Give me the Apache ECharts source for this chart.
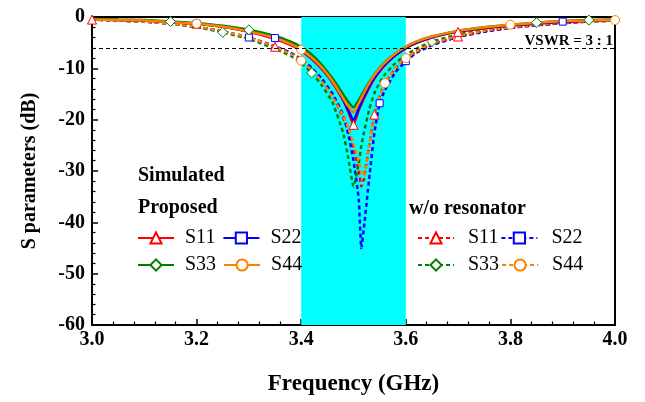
<!DOCTYPE html>
<html>
<head>
<meta charset="utf-8">
<script src="https://cdn.jsdelivr.net/npm/echarts@6/dist/echarts.min.js"></script>
<style>
  html, body { margin: 0; padding: 0; background: #fff; }
  #chart { width: 645px; height: 402px; }
</style>
</head>
<body>
<div id="chart"></div>
<script>
// Frequency sweep (GHz)
const freq = [3.00, 3.05, 3.10, 3.15, 3.20, 3.25, 3.30, 3.35, 3.38, 3.40, 3.42, 3.44, 3.46, 3.48, 3.49,
              3.50, 3.51, 3.515, 3.52, 3.53, 3.54, 3.55, 3.56, 3.58, 3.60, 3.62, 3.65, 3.70, 3.75, 3.80,
              3.85, 3.90, 3.95, 4.00];

// Proposed design (dB)
const propS11 = [-0.5, -0.6, -0.7, -1.0, -1.3, -1.9, -2.9, -4.3, -5.5, -6.6, -8.2, -10.2, -12.8, -16.2, -18.5,
                 -21.0, -18.2, -17.0, -15.9, -13.8, -12.0, -10.6, -9.4, -7.5, -6.1, -5.1, -4.0, -2.9, -2.2, -1.7,
                 -1.3, -1.0, -0.8, -0.6];
const propS22 = [-0.5, -0.6, -0.7, -1.0, -1.3, -1.9, -2.8, -4.1, -5.3, -6.4, -8.0, -10.0, -12.6, -16.0, -18.1,
                 -20.2, -17.8, -16.6, -15.5, -13.5, -11.8, -10.4, -9.2, -7.4, -6.0, -5.0, -3.9, -2.8, -2.1, -1.6,
                 -1.2, -0.9, -0.7, -0.6];
const propS33 = [-0.4, -0.5, -0.6, -0.9, -1.2, -1.7, -2.5, -3.7, -4.8, -5.8, -7.3, -9.4, -12.0, -15.0, -16.5,
                 -17.6, -16.2, -15.3, -14.4, -12.7, -11.2, -9.9, -8.8, -7.1, -5.8, -4.8, -3.8, -2.7, -2.0, -1.5,
                 -1.1, -0.8, -0.6, -0.5];
const propS44 = [-0.5, -0.6, -0.7, -1.0, -1.3, -1.9, -2.8, -4.1, -5.3, -6.4, -7.9, -9.9, -12.5, -15.8, -17.4,
                 -18.6, -16.8, -15.8, -14.8, -12.9, -11.3, -10.0, -8.9, -7.1, -5.8, -4.8, -3.8, -2.7, -2.0, -1.5,
                 -1.1, -0.8, -0.7, -0.6];

// Without resonator (dB)
const woS11 = [-0.5, -0.7, -0.9, -1.3, -1.9, -2.8, -4.0, -5.8, -7.1, -8.3, -10.1, -12.4, -15.4, -19.6, -22.2,
               -25.5, -30.0, -33.0, -31.5, -25.0, -19.0, -15.4, -13.0, -10.0, -8.1, -6.8, -5.3, -3.8, -2.8, -2.1,
               -1.6, -1.2, -0.9, -0.7];
const woS22 = [-0.5, -0.7, -0.9, -1.3, -1.9, -2.8, -4.0, -5.7, -7.0, -8.2, -9.9, -12.1, -15.0, -19.0, -22.8,
               -28.0, -35.5, -45.0, -41.0, -31.5, -22.5, -16.8, -14.3, -10.8, -8.6, -7.0, -5.5, -3.9, -2.9, -2.1,
               -1.6, -1.2, -0.9, -0.7];
const woS33 = [-0.5, -0.7, -0.9, -1.3, -2.0, -3.0, -4.3, -6.2, -7.6, -8.9, -10.9, -13.4, -16.7, -22.5, -27.5,
               -33.0, -28.5, -25.0, -22.5, -18.0, -14.8, -12.8, -11.2, -9.0, -7.4, -6.2, -4.8, -3.4, -2.5, -1.9,
               -1.4, -1.1, -0.8, -0.6];
const woS44 = [-0.5, -0.7, -0.9, -1.3, -1.9, -2.8, -4.0, -5.8, -7.2, -8.5, -10.3, -12.6, -15.6, -19.2, -21.6,
               -24.5, -28.0, -30.0, -31.0, -25.0, -19.0, -15.5, -12.9, -9.9, -8.0, -6.7, -5.2, -3.7, -2.7, -2.0,
               -1.5, -1.1, -0.9, -0.7];

// Operating band and VSWR reference
const band = [3.4, 3.6];
const vswrLevel = -6;
const vswrText = 'VSWR = 3 : 1';

// Axis ticks
const xTicks = { min: 3.0, max: 4.0, step: 0.2 };
const yTicks = { min: -60, max: 0, step: 10 };

const FONT = '"Times New Roman", "Liberation Serif", serif';
const RED = '#FF0000', BLUE = '#0000FF', GREEN = '#008000', ORANGE = '#FF8000';

function pairs(ys) { return freq.map((f, i) => [f, ys[i]]); }

function curve(name, ys, color, symbol, size, marks, dashed) {
  return {
    name: name,
    type: 'line',
    z: dashed ? 3 : 4,
    data: pairs(ys),
    smooth: 0.15,
    symbol: symbol,
    symbolSize: (v, p) => (marks.indexOf(p.dataIndex) >= 0 ? size : 0),
    showSymbol: true,
    showAllSymbol: true,
    lineStyle: { color: color, width: 2.5, type: dashed ? [4, 3] : 'solid' },
    itemStyle: { color: '#FFFFFF', borderColor: color, borderWidth: 1 },
    emphasis: { disabled: true },
    animation: false
  };
}

const series = [
  // band highlight and VSWR guide
  {
    name: 'guide', type: 'line', z: 1, data: [], silent: true,
    markArea: {
      silent: true,
      itemStyle: { color: '#00FFFF', opacity: 1 },
      data: [[{ xAxis: band[0] }, { xAxis: band[1] }]]
    },
    markLine: {
      silent: true, symbol: 'none',
      lineStyle: { color: '#000', width: 1.2, type: [4, 3] },
      label: {
        show: true, position: 'insideEndTop', formatter: vswrText,
        fontFamily: FONT, fontWeight: 'bold', fontSize: 15, color: '#000', distance: [2, -1]
      },
      data: [{ yAxis: vswrLevel }]
    }
  },
  curve('w/o S11', woS11, RED, 'triangle', 9, [7, 20, 27], true),
  curve('w/o S22', woS22, BLUE, 'rect', 7, [6, 21, 24], true),
  curve('w/o S33', woS33, GREEN, 'diamond', 10, [5, 10, 26], true),
  curve('w/o S44', woS44, ORANGE, 'circle', 9, [9, 22, 24], true),
  curve('Proposed S11', propS11, RED, 'triangle', 9, [0, 4, 15, 27], false),
  curve('Proposed S22', propS22, BLUE, 'rect', 7, [4, 7, 31], false),
  curve('Proposed S33', propS33, GREEN, 'diamond', 10, [3, 6, 30, 32], false),
  curve('Proposed S44', propS44, ORANGE, 'circle', 9, [4, 9, 29, 33], false)
];

function legendRow(names, left, top, textPad, gap) {
  return {
    data: names, left: left, top: top, orient: 'horizontal', padding: 0,
    itemWidth: 36, itemHeight: 14, itemGap: gap, selectedMode: false,
    formatter: n => n.split(' ').pop(),
    textStyle: { fontFamily: FONT, fontSize: 20, color: '#000', padding: [0, 0, 0, textPad] }
  };
}

const option = {
  animation: false,
  backgroundColor: '#FFFFFF',
  grid: { left: 92, right: 30, top: 17, bottom: 77, show: true, borderColor: '#000', borderWidth: 2, backgroundColor: 'transparent' },
  xAxis: {
    type: 'value', min: xTicks.min, max: xTicks.max, interval: xTicks.step,
    name: 'Frequency (GHz)', nameLocation: 'middle', nameGap: 48,
    nameTextStyle: { fontFamily: FONT, fontWeight: 'bold', fontSize: 23, color: '#000' },
    axisLine: { show: true, onZero: false, lineStyle: { color: '#000', width: 2 } },
    axisTick: { show: true, inside: true, length: 6, lineStyle: { color: '#000', width: 1.5 } },
    minorTick: { show: true, splitNumber: 5, length: 3.5, lineStyle: { color: '#000', width: 1.2 } },
    splitLine: { show: false },
    axisLabel: { fontFamily: FONT, fontWeight: 'bold', fontSize: 20, color: '#000', margin: 5,
                 formatter: v => v.toFixed(1) }
  },
  yAxis: {
    type: 'value', min: yTicks.min, max: yTicks.max, interval: yTicks.step,
    name: 'S parameters (dB)', nameLocation: 'middle', nameGap: 52,
    nameTextStyle: { fontFamily: FONT, fontWeight: 'bold', fontSize: 20, color: '#000' },
    axisLine: { show: true, onZero: false, lineStyle: { color: '#000', width: 2 } },
    axisTick: { show: true, inside: true, length: 6, lineStyle: { color: '#000', width: 1.5 } },
    minorTick: { show: true, splitNumber: 5, length: 3.5, lineStyle: { color: '#000', width: 1.2 } },
    splitLine: { show: false },
    axisLabel: { fontFamily: FONT, fontWeight: 'bold', fontSize: 20, color: '#000', margin: 7 }
  },
  legend: [
    legendRow(['Proposed S11', 'Proposed S22'], 137, 228, 6, 7),
    legendRow(['Proposed S33', 'Proposed S44'], 137, 255, 6, 7),
    legendRow(['w/o S11', 'w/o S22'], 417, 228, 9, 2),
    legendRow(['w/o S33', 'w/o S44'], 417, 255, 9, 2)
  ],
  graphic: [
    { type: 'text', left: 138, top: 166, style: { text: 'Simulated', font: 'bold 20px ' + FONT, fill: '#000' } },
    { type: 'text', left: 138, top: 198, style: { text: 'Proposed', font: 'bold 20px ' + FONT, fill: '#000' } },
    { type: 'text', left: 409, top: 199, style: { text: 'w/o resonator', font: 'bold 20px ' + FONT, fill: '#000' } }
  ],
  series: series
};

const chart = echarts.init(document.getElementById('chart'), null, { renderer: 'canvas' });
chart.setOption(option);
</script>
</body>
</html>
